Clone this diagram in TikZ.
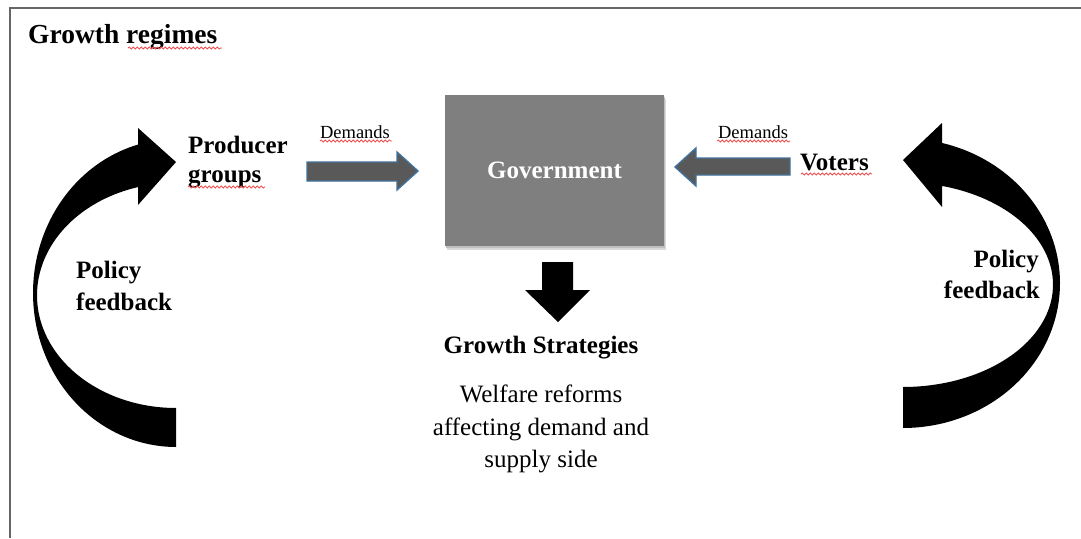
\documentclass[tikz,border=0pt]{standalone}
\usepackage{fontspec}
\setmainfont{Liberation Serif}
\usetikzlibrary{decorations.pathmorphing}
\definecolor{arrowfill}{HTML}{595959}
\definecolor{arrowedge}{HTML}{41719C}
\definecolor{govfill}{HTML}{7F7F7F}
\definecolor{framecol}{HTML}{666666}
\definecolor{squigcol}{HTML}{F05050}
\tikzset{
  lbl/.style={inner sep=0pt, font=\fontsize{25}{30}\selectfont\bfseries},
  plain/.style={inner sep=0pt, font=\fontsize{25}{30}\selectfont},
  small/.style={inner sep=0pt, font=\fontsize{18.5}{22}\selectfont},
  titlefont/.style={inner sep=0pt, font=\fontsize{27.5}{32}\selectfont\bfseries},
  squig/.style={draw=squigcol, line width=0.8pt, decorate, decoration={snake, amplitude=1.1pt, segment length=4pt}},
  blockarrow/.style={fill=arrowfill, draw=arrowedge, line width=1.4pt, line join=miter},
  curvarrow/.style={fill=black},
}
\begin{document}
\begin{tikzpicture}[x=1pt,y=-1pt]
\useasboundingbox (0,0) rectangle (1081,538);
% frame
\draw[framecol, line width=2pt] (1081,7.5) -- (10,7.5) -- (10,538);
% title
\node[titlefont, anchor=base west] (title) at (28,43) {Growth regimes};
\draw[squig] (128,48) -- (222,48);
% government box
\fill[black!15] (447,99) rectangle (666,250);
\fill[black!25] (446,97) rectangle (665,248);
\node[fill=govfill, minimum width=219pt, minimum height=151pt, inner sep=0pt] (gov) at (554.5,170.5) {};
\node[lbl, text=white, anchor=base] (govtext) at (554.5,178) {Government};
% producer groups
\node[lbl, anchor=base west] (prod1) at (188,153) {Producer};
\node[lbl, anchor=base west] (prod2) at (188,182) {groups};
\draw[squig] (188,187) -- (265,187);
% voters
\node[lbl, anchor=base west] (voters) at (800,170) {Voters};
\draw[squig] (801,174) -- (872,174);
% demands labels
\node[small, anchor=base] (dem1) at (355,138) {Demands};
\draw[squig] (320,141) -- (392,141);
\node[small, anchor=base] (dem2) at (753,138) {Demands};
\draw[squig] (717,141) -- (790,141);
% block arrows
\draw[blockarrow] (307,162) -- (397,162) -- (397,152) -- (418,171) -- (397,190) -- (397,181) -- (307,181) -- cycle;
\draw[blockarrow] (790,158) -- (696,158) -- (696,148) -- (675,167) -- (696,186) -- (696,175) -- (790,175) -- cycle;
% down arrow
\fill[black] (542,262) -- (573,262) -- (573,290) -- (590,290) -- (558,322) -- (525,290) -- (542,290) -- cycle;
% growth strategies
\node[lbl, anchor=base] (gs) at (541,353) {Growth Strategies};
\node[plain, anchor=base] (w1) at (541,402) {Welfare reforms};
\node[plain, anchor=base] (w2) at (541,435) {affecting demand and};
\node[plain, anchor=base] (w3) at (541,467) {supply side};
% left curved arrow
\fill[curvarrow]
  plot[domain=90:254.6, samples=80] ({176+143*cos(\x)},{293+154*sin(\x)})
  -- (138,128) -- (176,162) -- (138,205) -- (138,187)
  -- plot[domain=254.13:90, samples=80] ({176+139*cos(\x)},{295.4+112.6*sin(\x)})
  -- cycle;
% right curved arrow
\fill[curvarrow]
  plot[domain=90:-75.62, samples=80] ({903+157*cos(\x)},{283.2+144.8*sin(\x)})
  -- (942,123) -- (903,160) -- (942,207) -- (942,186)
  -- plot[domain=-74.93:90, samples=80] ({903+150*cos(\x)},{284.7+102.3*sin(\x)})
  -- cycle;
% policy feedback labels
\node[lbl, anchor=base west] (pf1) at (76,278) {Policy};
\node[lbl, anchor=base west] (pf2) at (76,310) {feedback};
\node[lbl, anchor=base east] (pf3) at (1039,267) {Policy};
\node[lbl, anchor=base east] (pf4) at (1040,298) {feedback};
\end{tikzpicture}
\end{document}
